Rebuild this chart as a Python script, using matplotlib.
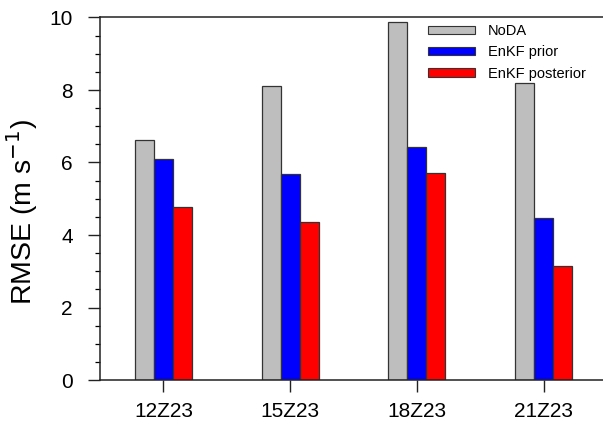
import numpy as np
import matplotlib
matplotlib.use("Agg")
import matplotlib.pyplot as plt
from matplotlib.patches import Patch
from matplotlib.ticker import MultipleLocator

plt.rcParams['font.family'] = ['Liberation Sans', 'DejaVu Sans']

times = ['12Z23', '15Z23', '18Z23', '21Z23']
noda = [6.62, 8.12, 9.88, 8.18]
enkf_prior = [6.10, 5.67, 6.43, 4.47]
enkf_post = [4.78, 4.36, 5.70, 3.14]

series = [('NoDA', noda, '#bebebe'),
          ('EnKF prior', enkf_prior, '#0000ff'),
          ('EnKF posterior', enkf_post, '#ff0000')]

W, H = 603, 423
fig = plt.figure(figsize=(W / 100, H / 100), dpi=100)
ax = fig.add_axes([100 / W, (H - 380) / H, 507 / W, 362.5 / H])

x = np.arange(len(times))
bw = 0.15
for i, (name, vals, col) in enumerate(series):
    ax.bar(x + (i - 1) * bw, vals, bw, color=col, edgecolor='#333333',
           linewidth=0.9, zorder=2)

ax.set_xlim(-0.5, 3.5)
ax.set_ylim(0, 10)
ax.set_xticks(x)
ax.set_xticklabels(times)
ax.yaxis.set_major_locator(MultipleLocator(2))
ax.yaxis.set_minor_locator(MultipleLocator(0.5))
ax.tick_params(axis='both', direction='out', length=8.6, width=1.0,
               labelsize=15, pad=11, color='#222222')
ax.tick_params(axis='x', pad=7.5)
ax.tick_params(axis='y', which='minor', direction='out', length=3.6, width=0.9)
ax.tick_params(axis='x', which='minor', bottom=False)
for s in ax.spines.values():
    s.set_linewidth(1.1)
    s.set_color('#222222')

ax.set_ylabel('RMSE (m s$^{-1}$)', fontsize=20.5)
ax.yaxis.set_label_coords(-0.118, 0.463)

handles = [Patch(facecolor=c, edgecolor='#333333', linewidth=0.8, label=n)
           for n, _, c in series]
ax.legend(handles=handles, loc='upper left',
          bbox_to_anchor=(428 / W, 1 - 24 / H), bbox_transform=fig.transFigure,
          frameon=False, fontsize=10.5, handlelength=3.2, handleheight=0.5,
          handletextpad=0.9, labelspacing=0.5, borderpad=0, borderaxespad=0)

fig.savefig('out.png', dpi=100)
